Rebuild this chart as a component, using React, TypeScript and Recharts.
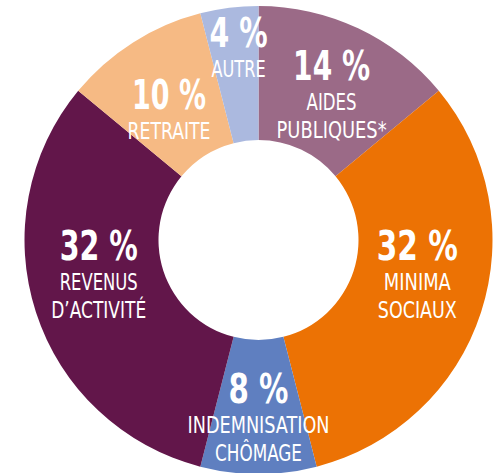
import { PieChart, Pie, Cell } from "recharts";

// share of income sources, clockwise from 12 o'clock
const categories = [
  "Aides publiques",
  "Minima sociaux",
  "Indemnisation chômage",
  "Revenus d'activité",
  "Retraite",
  "Autre",
];
const shares = [14, 32, 8, 32, 10, 4];
const labelLines = [
  ["AIDES", "PUBLIQUES*"],
  ["MINIMA", "SOCIAUX"],
  ["INDEMNISATION", "CHÔMAGE"],
  ["REVENUS", "D’ACTIVITÉ"],
  ["RETRAITE"],
  ["AUTRE"],
];
const colors = ["#9b6a87", "#ec7204", "#5f7fc0", "#62164a", "#f6ba84", "#abb9df"];

// nudges from the mid-ring point, and text widths (condensed face)
const labelLayout = [
  { dx: 2, dy: -9, pctW: 77, lineW: [50, 110] },
  { dx: 0, dy: -32, pctW: 81, lineW: [67, 79] },
  { dx: 0, dy: -4, pctW: 60, lineW: [142, 87] },
  { dx: -1, dy: -32, pctW: 78, lineW: [78, 95] },
  { dx: 0, dy: 10, pctW: 74, lineW: [83] },
  { dx: 1, dy: -27, pctW: 58, lineW: [54] },
];

const data = categories.map((name, i) => ({ name, value: shares[i] }));

const RAD = Math.PI / 180;
const FONT = "'Liberation Sans Narrow', 'DejaVu Sans Condensed', 'Liberation Sans', sans-serif";

function renderLabel(props: any) {
  const { cx, cy, midAngle, innerRadius, outerRadius, index } = props;
  const r = (innerRadius + outerRadius) / 2;
  const lay = labelLayout[index];
  const x = cx + r * Math.cos(-midAngle * RAD) + lay.dx;
  const y = cy + r * Math.sin(-midAngle * RAD) + lay.dy;
  return (
    <g key={`lbl-${index}`}>
      <text
        x={x}
        y={y}
        textAnchor="middle"
        fill="#fff"
        fontFamily={FONT}
        fontWeight="bold"
        fontSize={40}
        textLength={lay.pctW}
        lengthAdjust="spacingAndGlyphs"
      >
        {`${shares[index]} %`}
      </text>
      {labelLines[index].map((line, j) => (
        <text
          key={j}
          x={x}
          y={y + 30 + j * 28}
          textAnchor="middle"
          fill="#fff"
          fontFamily={FONT}
          fontSize={23}
          textLength={lay.lineW[j]}
          lengthAdjust="spacingAndGlyphs"
        >
          {line}
        </text>
      ))}
    </g>
  );
}

export default function App() {
  return (
    <div style={{ position: "absolute", left: 0, top: 0, width: 499, height: 473, background: "#fff" }}>
      <PieChart width={499} height={473} margin={{ top: 0, right: 0, bottom: 0, left: 0 }}>
        <Pie
          data={data}
          dataKey="value"
          nameKey="name"
          cx={258.5}
          cy={240}
          innerRadius={100}
          outerRadius={234}
          startAngle={90}
          endAngle={-270}
          stroke="none"
          label={renderLabel}
          labelLine={false}
          isAnimationActive={false}
        >
          {data.map((d, i) => (
            <Cell key={d.name} fill={colors[i]} />
          ))}
        </Pie>
      </PieChart>
    </div>
  );
}
